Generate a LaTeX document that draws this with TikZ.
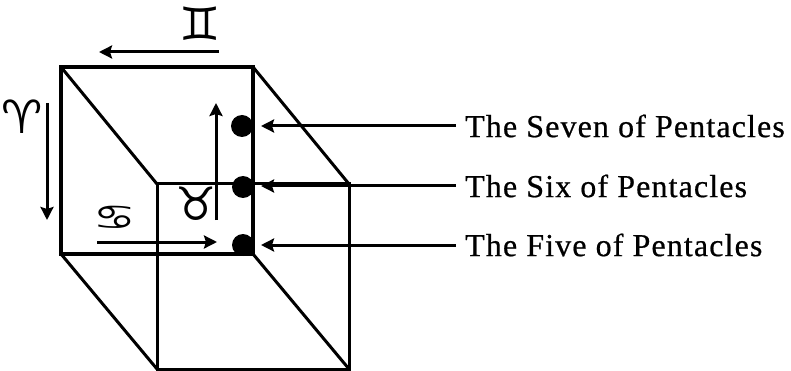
\documentclass[tikz,border=0pt]{standalone}
\usepackage{fontspec}
\setmainfont[LetterSpace=3.5,FakeBold=0.6]{Liberation Serif}
\newfontfamily\zodiac{DejaVu Sans}
\usetikzlibrary{arrows.meta}
\tikzset{
  x=1pt,y=-1pt,
  edge/.style={line width=3.2pt,line join=miter,black},
  thin edge/.style={line width=3pt,black},
  pointer/.style={line width=3pt,-{Stealth[length=13pt,width=13pt,inset=2pt]}},
  pip/.style={circle,fill=black,inner sep=0pt,minimum size=22pt},
  caption/.style={anchor=west,inner sep=0pt,font=\fontsize{32}{34}\selectfont},
  sign/.style={inner sep=0pt,font=\zodiac\fontsize{#1}{#1}\selectfont},
}
\begin{document}
\begin{tikzpicture}
\useasboundingbox (0,0) rectangle (791,371);
\fill[white] (0,0) rectangle (791,371);
% corners
\coordinate (fa) at (61,67); \coordinate (fb) at (253,67);
\coordinate (fc) at (253,254); \coordinate (fd) at (61,254);
\coordinate (ba) at (157,184); \coordinate (bb) at (349,184);
\coordinate (bc) at (349,369); \coordinate (bd) at (157,369);
\draw[edge] (fa) -- (fb) -- (fc) -- (fd) -- cycle;
\draw[thin edge] (ba) -- (bb) -- (bc) -- (bd) -- cycle;
\draw[thin edge] (fa) -- (ba);
\draw[thin edge] (fb) -- (bb);
\draw[thin edge] (fc) -- (bc);
\draw[thin edge] (fd) -- (bd);
% pips
\node[pip] (p7) at (242,126) {};
\node[pip] (p6) at (243,187) {};
\node[pip] (p5) at (243,245) {};
% captions
\node[caption] (t7) at (465,126) {The Seven of Pentacles};
\node[caption] (t6) at (465,186) {The Six of Pentacles};
\node[caption] (t5) at (465,245) {The Five of Pentacles};
\coordinate (s7) at (456,126);
\coordinate (s6) at (456,186);
\coordinate (s5) at (456,245);
\coordinate (e7) at (261,126);
\coordinate (e6) at (261,186);
\coordinate (e5) at (261,245);
\draw[pointer] (s7) -- (e7);
\draw[pointer] (s6) -- (e6);
\draw[pointer] (s5) -- (e5);
% motion arrows
\coordinate (g1) at (219,52); \coordinate (g2) at (99,52);
\coordinate (a1) at (47,103); \coordinate (a2) at (47,220);
\coordinate (t1) at (216,220); \coordinate (t2) at (216,103);
\coordinate (c1) at (97,242); \coordinate (c2) at (217,242);
\draw[pointer] (g1) -- (g2);
\draw[pointer] (a1) -- (a2);
\draw[pointer] (t1) -- (t2);
\draw[pointer] (c1) -- (c2);
% signs
\node[sign=46] (gem) at (200,24) {♊};
\node[sign=46] (ari) at (22,117) {♈};
\node[sign=46] (tau) at (196,204) {♉};
\node[sign=44,xscale=1.08,yscale=0.78] (can) at (115,218) {♋};
\end{tikzpicture}
\end{document}
